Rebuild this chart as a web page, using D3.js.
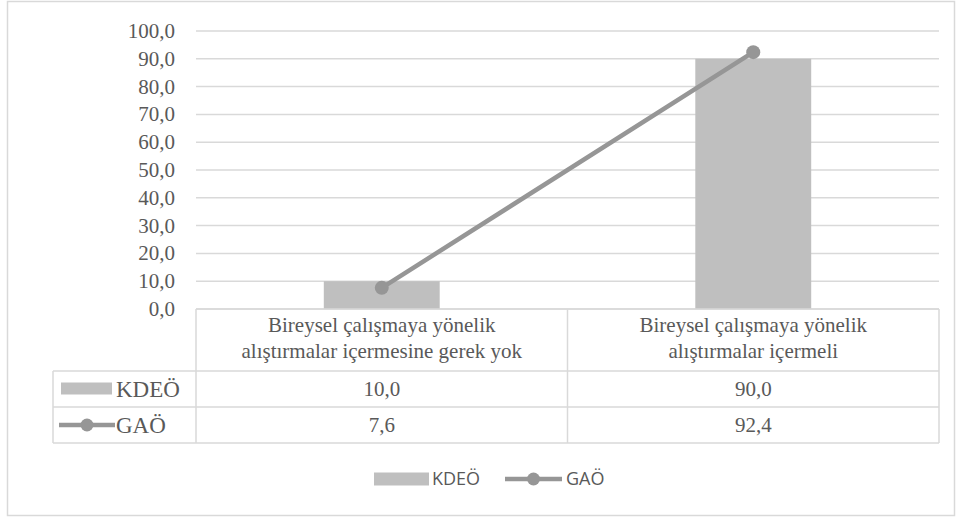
<!DOCTYPE html>
<meta charset="utf-8">
<style>
  body { margin: 0; background: #fff; }
</style>
<svg width="956" height="517"></svg>
<script src="https://d3js.org/d3.v7.min.js"></script>
<script>

var categories = [
  ["Bireysel çalışmaya yönelik", "alıştırmalar içermesine gerek yok"],
  ["Bireysel çalışmaya yönelik", "alıştırmalar içermeli"]
];
var kdeo = [10.0, 90.0];
var gao = [7.6, 92.4];
var seriesNames = ["KDEÖ", "GAÖ"];
var yTicks = [0, 10, 20, 30, 40, 50, 60, 70, 80, 90, 100];

var svg = d3.select("svg");
var fmt = function(v) { return d3.format(".1f")(v).replace(".", ","); };

var barColor = "#bfbfbf", lineColor = "#969696", gridColor = "#d9d9d9", textColor = "#595959";
var serif = "'Liberation Serif'", sans = "'Open Sans'";

function txt(g, size, font) {
  return g.append("text")
      .style("font-family", font || serif)
      .style("font-size", (size || 21) + "px")
      .attr("fill", textColor);
}

// outer frame
svg.append("rect")
    .attr("x", 7.5).attr("y", 1.5)
    .attr("width", 947).attr("height", 514)
    .attr("fill", "none").attr("stroke", gridColor).attr("stroke-width", 1.5);

var plotLeft = 196, plotRight = 939, plotTop = 31, plotBottom = 309;

var x = d3.scaleBand()
    .domain(d3.range(categories.length))
    .range([plotLeft, plotRight])
    .paddingInner(0).paddingOuter(0);

var y = d3.scaleLinear().domain([0, 100]).range([plotBottom, plotTop]);

// gridlines
svg.append("g")
  .selectAll("line")
  .data(yTicks)
  .enter().append("line")
    .attr("x1", plotLeft).attr("x2", plotRight)
    .attr("y1", function(d) { return y(d); })
    .attr("y2", function(d) { return y(d); })
    .attr("stroke", gridColor).attr("stroke-width", 1.5);

// y axis labels
var yLab = svg.append("g");
yTicks.forEach(function(d) {
  txt(yLab).attr("x", 175).attr("y", y(d) + 7).attr("text-anchor", "end").text(fmt(d));
});

// bars
var barW = x.bandwidth() * 0.312;
svg.append("g")
  .selectAll("rect")
  .data(kdeo)
  .enter().append("rect")
    .attr("x", function(d, i) { return x(i) + x.bandwidth() / 2 - barW / 2; })
    .attr("y", function(d) { return y(d); })
    .attr("width", barW)
    .attr("height", function(d) { return y(0) - y(d); })
    .attr("fill", barColor);

// line
var line = d3.line()
    .x(function(d, i) { return x(i) + x.bandwidth() / 2; })
    .y(function(d) { return y(d); });

svg.append("path")
    .datum(gao)
    .attr("d", line)
    .attr("fill", "none")
    .attr("stroke", lineColor)
    .attr("stroke-width", 4.5)
    .attr("stroke-linecap", "round");

svg.append("g")
  .selectAll("circle")
  .data(gao)
  .enter().append("circle")
    .attr("cx", function(d, i) { return x(i) + x.bandwidth() / 2; })
    .attr("cy", function(d) { return y(d); })
    .attr("r", 7)
    .attr("fill", lineColor);

// data table
var rowY = [plotBottom, 371, 407, 443];
var tLeft = 53;
var table = svg.append("g").attr("stroke", gridColor).attr("stroke-width", 1.5).attr("fill", "none");
table.append("line").attr("x1", plotLeft).attr("x2", plotRight).attr("y1", rowY[0]).attr("y2", rowY[0]);
[1, 2, 3].forEach(function(r) {
  table.append("line").attr("x1", tLeft).attr("x2", plotRight).attr("y1", rowY[r]).attr("y2", rowY[r]);
});
table.append("line").attr("x1", tLeft).attr("x2", tLeft).attr("y1", rowY[1]).attr("y2", rowY[3]);
[0, 1].forEach(function(i) {
  table.append("line").attr("x1", x(i)).attr("x2", x(i)).attr("y1", rowY[0]).attr("y2", rowY[3]);
});
table.append("line").attr("x1", plotRight).attr("x2", plotRight).attr("y1", rowY[0]).attr("y2", rowY[3]);

// header text
var head = svg.append("g");
categories.forEach(function(c, i) {
  var t = txt(head).attr("text-anchor", "middle");
  c.forEach(function(s, k) {
    t.append("tspan")
        .attr("x", x(i) + x.bandwidth() / 2)
        .attr("y", 332 + k * 26)
        .text(s);
  });
});

// value rows
var vals = svg.append("g");
[kdeo, gao].forEach(function(series, r) {
  series.forEach(function(d, i) {
    txt(vals)
        .attr("x", x(i) + x.bandwidth() / 2)
        .attr("y", (rowY[r + 1] + rowY[r + 2]) / 2 + 7)
        .attr("text-anchor", "middle")
        .text(fmt(d));
  });
});

// row keys
function barKey(g, kx, ky, w, h) {
  g.append("rect").attr("x", kx).attr("y", ky - h / 2).attr("width", w).attr("height", h).attr("fill", barColor);
}
function lineKey(g, kx, ky, w) {
  g.append("line").attr("x1", kx).attr("x2", kx + w).attr("y1", ky).attr("y2", ky)
      .attr("stroke", lineColor).attr("stroke-width", 4.5);
  g.append("circle").attr("cx", kx + w / 2).attr("cy", ky).attr("r", 6.5).attr("fill", lineColor);
}

var keys = svg.append("g");
barKey(keys, 61, 388.5, 51, 12);
txt(keys, 23).attr("x", 116).attr("y", 397).text(seriesNames[0]);
lineKey(keys, 59, 425, 56);
txt(keys, 23).attr("x", 116).attr("y", 433).text(seriesNames[1]);

// legend
var legend = svg.append("g");
barKey(legend, 374, 479, 55, 13);
txt(legend, 18, sans).attr("x", 432).attr("y", 485).text(seriesNames[0]);
lineKey(legend, 505, 479, 57);
txt(legend, 18, sans).attr("x", 566).attr("y", 485).text(seriesNames[1]);

</script>
